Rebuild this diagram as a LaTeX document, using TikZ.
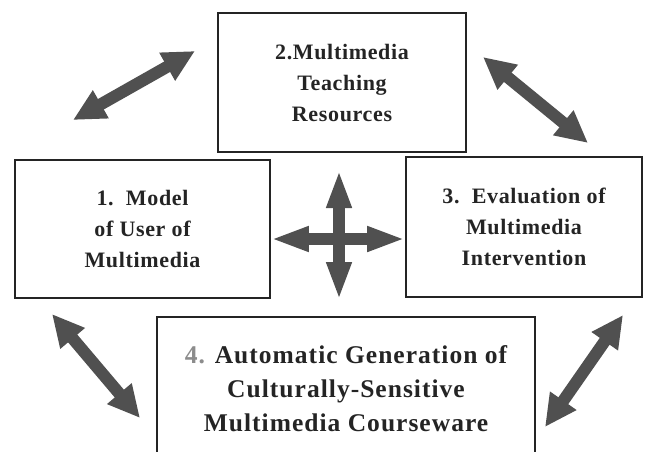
\documentclass[tikz,border=0pt]{standalone}
\usepackage{fontspec}
\setmainfont{Liberation Serif}
\usetikzlibrary{arrows.meta,positioning}
\definecolor{arrowgray}{HTML}{505050}
\definecolor{ink}{HTML}{242424}

\begin{document}
\begin{tikzpicture}[x=1pt,y=-1pt,
  box/.style={draw=ink, line width=1.6pt, fill=white, align=center, text=ink,
    font=\bfseries\fontsize{22}{31}\selectfont\addfontfeatures{LetterSpace=3}},
  fat/.style={draw=arrowgray, line width=12pt,
    {Triangle[width=30pt,length=32pt]}-{Triangle[width=30pt,length=32pt]}},
  cross/.style={draw=arrowgray, line width=12pt,
    {Triangle[width=23pt,length=38pt]}-{Triangle[width=23pt,length=38pt]}}]
\clip (0,0) rectangle (655,451);

% the four boxes
\node[box, minimum width=248pt, minimum height=139pt] (res) at (342,82.5) {2.Multimedia\\Teaching\\Resources};
\node[box, minimum width=255pt, minimum height=138pt] (user) at (142.5,229) {1.\ \ Model\\of User of\\Multimedia};
\node[box, minimum width=236pt, minimum height=140pt] (eval) at (524,227) {3.\ \ Evaluation of\\Multimedia\\Intervention};
\node[box, minimum width=378pt, minimum height=170pt, anchor=north] (gen) at (346,316) {};
\node[inner sep=0pt, align=center, text=ink,
  font=\bfseries\fontsize{25.5}{34}\selectfont\addfontfeatures{LetterSpace=4},
  below=29pt of gen.north] (gentext) {{\color{black!45}4.} Automatic Generation of\\Culturally-Sensitive\\Multimedia Courseware};

% free ends of the corner arrows
\coordinate (tl1) at (73,120);
\coordinate (tl2) at (195,51);
\coordinate (tr1) at (483,57);
\coordinate (tr2) at (588,143);
\coordinate (bl1) at (52,314);
\coordinate (bl2) at (140,418);
\coordinate (br1) at (623,315);
\coordinate (br2) at (545,427);
\coordinate (hub) at (339,239);
\coordinate (up) at (339,170);
\coordinate (down) at (339,300);

\draw[fat] (tl1) -- (tl2);
\draw[fat] (tr1) -- (tr2);
\draw[fat] (bl1) -- (bl2);
\draw[fat] (br1) -- (br2);

% cross in the middle
\draw[cross] (user.east |- hub) -- (eval.west |- hub);
\draw[cross] (up) -- (down);
\end{tikzpicture}
\end{document}
